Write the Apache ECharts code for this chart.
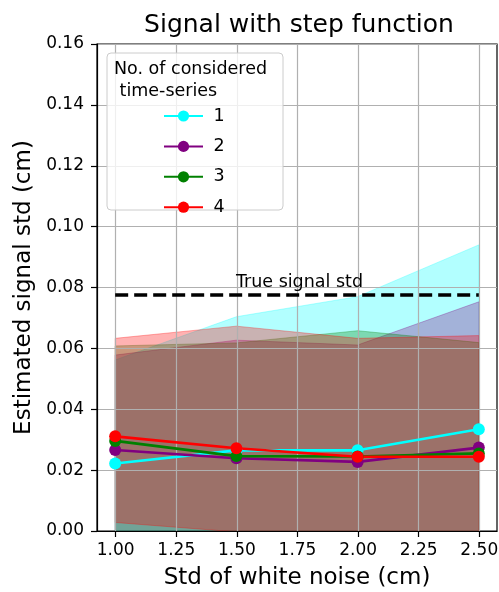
<!DOCTYPE html>
<html>
<head>
<meta charset="utf-8">
<script src="https://cdn.jsdelivr.net/npm/echarts@6/dist/echarts.min.js"></script>
<style>html,body{margin:0;padding:0;background:#fff}#c{width:499px;height:592px}</style>
</head>
<body>
<div id="c"></div>
<script>
var noiseStd = [1.0, 1.5, 2.0, 2.5];
var xTicks = ['1.00', '1.25', '1.50', '1.75', '2.00', '2.25', '2.50'];
var seriesNames = ['1', '2', '3', '4'];
var seriesColors = ['#00ffff', '#800080', '#008000', '#ff0000'];
var mean1 = [0.0222, 0.0265, 0.0265, 0.0334];
var mean2 = [0.0266, 0.0239, 0.0227, 0.0274];
var mean3 = [0.0296, 0.0246, 0.0245, 0.0255];
var mean4 = [0.0311, 0.0272, 0.0244, 0.0244];
var upper1 = [0.0562, 0.0704, 0.0770, 0.0940];
var upper2 = [0.0578, 0.0627, 0.0611, 0.0753];
var upper3 = [0.0608, 0.0618, 0.0658, 0.0619];
var upper4 = [0.0633, 0.0673, 0.0633, 0.0642];
var lower1 = [-0.012, -0.018, -0.024, -0.027];
var lower2 = [-0.005, -0.015, -0.016, -0.021];
var lower3 = [-0.001, -0.013, -0.017, -0.011];
var lower4 = [0.0028, -0.0003, -0.015, -0.016];
var trueStd = 0.0775;
var trueLabel = 'True signal std';
var legendTitle = 'No. of considered\n time-series';

var means = [mean1, mean2, mean3, mean4];
var uppers = [upper1, upper2, upper3, upper4];
var lowers = [lower1, lower2, lower3, lower4];
var FONT = 'DejaVu Sans';

function pairs(xs, ys) { return xs.map(function (x, i) { return [x, ys[i]]; }); }
function hexA(hex, a) {
  var r = parseInt(hex.substr(1, 2), 16), g = parseInt(hex.substr(3, 2), 16), b = parseInt(hex.substr(5, 2), 16);
  return 'rgba(' + r + ',' + g + ',' + b + ',' + a + ')';
}

function makeBandRender(color) {
  return function (params, api) {
    if (params.dataIndexInside !== 0) return null;
    var n = params.dataInsideLength;
    var top = [], bot = [];
    for (var i = 0; i < n; i++) {
      var x = api.value(0, i);
      top.push(api.coord([x, api.value(2, i)]));
      bot.push(api.coord([x, api.value(1, i)]));
    }
    var pts = top.concat(bot.reverse());
    var cs = params.coordSys;
    return {
      type: 'polygon',
      shape: { points: pts },
      clipPath: { type: 'rect', shape: { x: cs.x, y: cs.y, width: cs.width, height: cs.height } },
      style: { fill: hexA(color, 0.3), stroke: hexA(color, 0.3), lineWidth: 1 },
      silent: true
    };
  };
}

var series = [];
for (var k = 0; k < 4; k++) {
  series.push({
    name: 'band' + k, type: 'custom', xAxisIndex: 0, yAxisIndex: 0, z: 1,
    renderItem: makeBandRender(seriesColors[k]),
    encode: { x: 0, y: [1, 2] },
    data: noiseStd.map(function (x, i) { return [x, lowers[k][i], uppers[k][i]]; }),
    silent: true, clip: true
  });
}
for (var k2 = 0; k2 < 4; k2++) {
  series.push({
    name: seriesNames[k2], type: 'line', xAxisIndex: 0, yAxisIndex: 0, z: 5,
    data: pairs(noiseStd, means[k2]),
    symbol: 'circle', symbolSize: 12,
    itemStyle: { color: seriesColors[k2] },
    lineStyle: { color: seriesColors[k2], width: 2.6 }
  });
}
series.push({
  name: 'true', type: 'line', xAxisIndex: 0, yAxisIndex: 0, z: 6,
  data: [[noiseStd[0], trueStd], [noiseStd[noiseStd.length - 1], trueStd]],
  symbol: 'none', lineStyle: { color: '#000', width: 3.5, type: [13, 6] }
});
series.push({
  name: 'trueLabel', type: 'scatter', xAxisIndex: 0, yAxisIndex: 0, z: 6,
  data: [[1.5, 0.0785]], symbolSize: 1, itemStyle: { color: 'rgba(0,0,0,0)', opacity: 1 },
  label: { show: true, formatter: trueLabel, position: [0, 0], align: 'left', verticalAlign: 'bottom',
           fontFamily: FONT, fontSize: 17.5, color: '#000', opacity: 1, textBorderWidth: 0 },
  silent: true
});

var chart = echarts.init(document.getElementById('c'), null, { renderer: 'canvas' });
chart.setOption({
  animation: false,
  backgroundColor: '#fff',
  title: {
    text: 'Signal with step function', left: 294, top: 8, textAlign: 'center',
    textStyle: { fontFamily: FONT, fontSize: 25, fontWeight: 'normal', color: '#000' }
  },
  grid: [
    { left: 97, right: 2, top: 44, bottom: 61, show: true, borderColor: '#000', borderWidth: 1.2,
      backgroundColor: 'transparent', containLabel: false, outerBoundsMode: 'none' },
    { left: 115.7, right: 19.7, top: 44, bottom: 61, containLabel: false, outerBoundsMode: 'none' }
  ],
  xAxis: [
    { type: 'value', gridIndex: 0, min: 0.925, max: 2.575, z: 3,
      name: 'Std of white noise (cm)', nameLocation: 'middle', nameGap: 36,
      nameTextStyle: { fontFamily: FONT, fontSize: 23, color: '#000' },
      axisLine: { show: true, lineStyle: { color: '#000', width: 1.2 } },
      axisTick: { show: false }, axisLabel: { show: false }, splitLine: { show: false } },
    { type: 'value', gridIndex: 1, min: 1.0, max: 2.5, interval: 0.25, z: 3,
      axisLine: { show: false },
      axisTick: { show: true, length: 6, inside: false, lineStyle: { color: '#000', width: 1.2 } },
      axisLabel: { show: true, margin: 11, fontFamily: FONT, fontSize: 17, color: '#000',
        formatter: function (v) { var i = Math.round((v - 1.0) / 0.25); return xTicks[i] || ''; } },
      splitLine: { show: true, lineStyle: { color: '#b0b0b0', width: 1.2 } } }
  ],
  yAxis: [
    { type: 'value', gridIndex: 0, min: 0, max: 0.16, interval: 0.02, z: 3,
      name: 'Estimated signal std (cm)', nameLocation: 'middle', nameGap: 56, nameRotate: 90,
      nameTextStyle: { fontFamily: FONT, fontSize: 23, color: '#000' },
      axisLine: { show: true, lineStyle: { color: '#000', width: 1.2 } },
      axisTick: { show: true, length: 6, lineStyle: { color: '#000', width: 1.2 } },
      axisLabel: { margin: 13, fontFamily: FONT, fontSize: 17, color: '#000',
        formatter: function (v) { return v.toFixed(2); } },
      splitLine: { show: true, lineStyle: { color: '#b0b0b0', width: 1.2 } } },
    { type: 'value', gridIndex: 1, min: 0, max: 1, show: false, splitLine: { show: false } }
  ],
  legend: {
    data: seriesNames, orient: 'vertical', left: 163, top: 107,
    itemWidth: 39, itemHeight: 14, itemGap: 12.4, padding: 0,
    formatter: ' {name}',
    textStyle: { fontFamily: FONT, fontSize: 17.5, color: '#000', lineHeight: 14 },
    z: 20
  },
  graphic: [
    { type: 'rect', z: 15, shape: { x: 107, y: 53, width: 176, height: 157, r: 4 },
      style: { fill: 'rgba(255,255,255,0.8)', stroke: '#cccccc', lineWidth: 1 } },
    { type: 'text', z: 16, left: 114, top: 58,
      style: { text: legendTitle, fontFamily: FONT, fontSize: 17.5, fill: '#000', lineHeight: 22 } }
  ],
  series: series
});
</script>
</body>
</html>
